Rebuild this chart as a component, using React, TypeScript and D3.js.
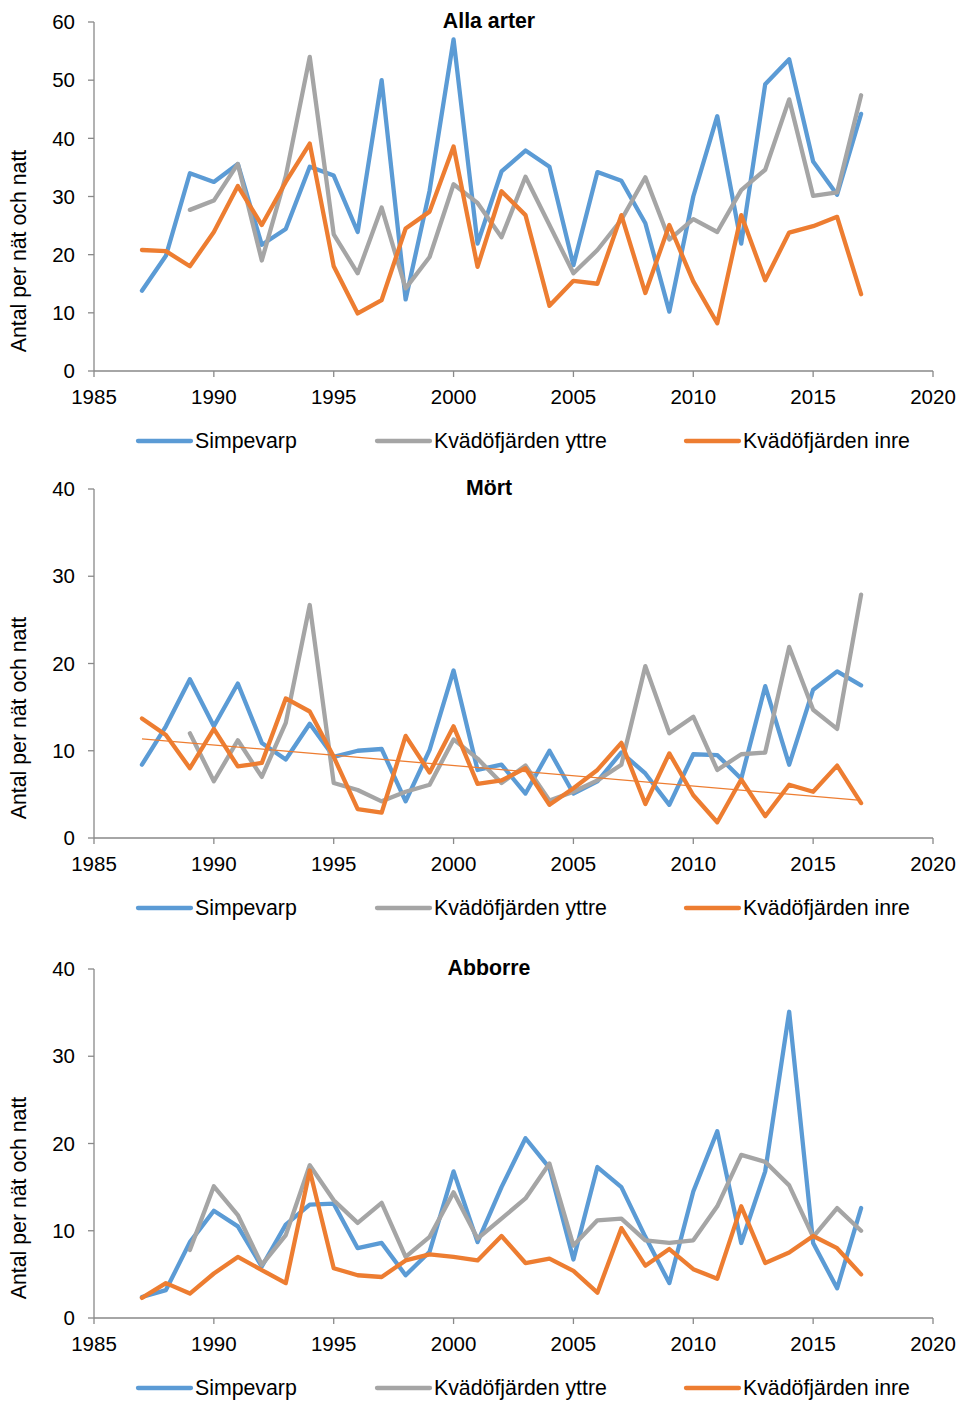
import React from "react";
import * as d3 from "d3";

const years = d3.range(1987, 2018);

const seriesNames = ["Simpevarp", "Kvädöfjärden yttre", "Kvädöfjärden inre"];
const seriesColors = ["#5B9BD5", "#A5A5A5", "#ED7D31"];

const panelTitles = ["Alla arter", "Mört", "Abborre"];
const panelYMax = [60, 40, 40];
const xTicks = [1985, 1990, 1995, 2000, 2005, 2010, 2015, 2020];

// Alla arter
const allaSimpevarp = [13.8, 19.8, 34.0, 32.5, 35.6, 21.7, 24.4, 35.1, 33.6, 23.9, 50.0, 12.3, 31.0, 57.0, 21.9, 34.3, 37.9, 35.1, 18.2, 34.2, 32.7, 25.4, 10.2, 30.0, 43.8, 21.9, 49.3, 53.6, 36.0, 30.3, 44.2];
const allaYttre = [null, null, 27.7, 29.3, 35.6, 19.0, 33.5, 54.0, 23.5, 16.8, 28.1, 14.2, 19.6, 32.1, 28.9, 23.0, 33.4, 25.1, 16.8, 20.8, 26.0, 33.3, 22.6, 26.1, 23.9, 31.1, 34.6, 46.7, 30.1, 30.7, 47.4];
const allaInre = [20.8, 20.6, 18.0, 23.9, 31.8, 25.1, 32.5, 39.1, 18.0, 9.9, 12.2, 24.5, 27.4, 38.6, 17.9, 30.9, 26.8, 11.2, 15.5, 15.0, 26.8, 13.4, 25.1, 15.4, 8.2, 26.8, 15.6, 23.8, 24.9, 26.5, 13.2];

// Mört
const mortSimpevarp = [8.4, 12.8, 18.2, 12.8, 17.7, 10.9, 9.0, 13.1, 9.3, 10.0, 10.2, 4.2, 10.1, 19.2, 7.8, 8.4, 5.1, 10.0, 5.1, 6.5, 9.8, 7.4, 3.8, 9.6, 9.5, 6.8, 17.4, 8.4, 17.0, 19.1, 17.5];
const mortYttre = [null, null, 12.0, 6.5, 11.2, 7.0, 13.2, 26.7, 6.3, 5.5, 4.2, 5.3, 6.1, 11.3, 9.1, 6.3, 8.3, 4.3, 5.3, 6.6, 8.4, 19.7, 12.0, 13.9, 7.8, 9.6, 9.8, 21.9, 14.7, 12.5, 27.9];
const mortInre = [13.7, 11.8, 8.0, 12.5, 8.2, 8.6, 16.0, 14.5, 9.3, 3.3, 2.9, 11.7, 7.5, 12.8, 6.2, 6.6, 8.0, 3.8, 5.7, 7.8, 10.9, 3.9, 9.7, 4.9, 1.8, 6.7, 2.5, 6.1, 5.3, 8.3, 4.0];

// Abborre
const abborreSimpevarp = [2.4, 3.2, 8.7, 12.3, 10.5, 5.9, 10.7, 13.0, 13.1, 8.0, 8.6, 4.9, 7.6, 16.8, 8.7, 15.0, 20.6, 17.2, 6.7, 17.3, 15.0, 9.3, 4.0, 14.5, 21.4, 8.6, 16.8, 35.1, 8.6, 3.4, 12.6];
const abborreYttre = [null, null, 7.8, 15.1, 11.8, 6.1, 9.5, 17.5, 13.5, 10.9, 13.2, 7.0, 9.3, 14.4, 9.1, 11.4, 13.7, 17.7, 8.3, 11.2, 11.4, 8.9, 8.6, 8.9, 12.8, 18.7, 17.9, 15.2, 9.3, 12.6, 10.0];
const abborreInre = [2.3, 4.0, 2.8, 5.1, 7.0, 5.5, 4.0, 16.9, 5.7, 4.9, 4.7, 6.6, 7.3, 7.0, 6.6, 9.4, 6.3, 6.8, 5.4, 2.9, 10.3, 6.0, 7.9, 5.6, 4.5, 12.8, 6.3, 7.5, 9.4, 8.0, 5.0];

const panelData = [
  [allaSimpevarp, allaYttre, allaInre],
  [mortSimpevarp, mortYttre, mortInre],
  [abborreSimpevarp, abborreYttre, abborreInre],
];
const panelTrend = [false, true, false];

const W = 962;
const H = 1403;
const plotLeft = 94;
const plotRight = 933;
const panelTops = [22, 489, 969];
const plotH = 349;
const axisColor = "#898989";
const fontFamily = "'Liberation Sans', Arial, sans-serif";
const tickFont = 20.5;
const textFont = 21.3;

const legendItems = [
  { x1: 138, x2: 191 },
  { x1: 377, x2: 430 },
  { x1: 686, x2: 739 },
];

function linreg(xs: number[], ys: number[]) {
  const mx = d3.mean(xs) as number;
  const my = d3.mean(ys) as number;
  let num = 0;
  let den = 0;
  xs.forEach((x, i) => {
    num += (x - mx) * (ys[i] - my);
    den += (x - mx) * (x - mx);
  });
  const b = num / den;
  return { a: my - b * mx, b };
}

function Panel({ idx }: { idx: number }) {
  const top = panelTops[idx];
  const bottom = top + plotH;
  const x = d3.scaleLinear().domain([1985, 2020]).range([plotLeft, plotRight]);
  const y = d3.scaleLinear().domain([0, panelYMax[idx]]).range([bottom, top]);
  const yTicks = d3.range(0, panelYMax[idx] + 1, 10);
  const line = d3
    .line<number | null>()
    .defined((d) => d != null)
    .x((_, i) => x(years[i]))
    .y((d) => y(d as number));
  const data = panelData[idx];
  let trend: React.ReactNode = null;
  if (panelTrend[idx]) {
    const ys = data[2] as number[];
    const { a, b } = linreg(years, ys);
    const x0 = years[0];
    const x1 = years[years.length - 1];
    trend = (
      <line
        x1={x(x0)}
        y1={y(a + b * x0)}
        x2={x(x1)}
        y2={y(a + b * x1)}
        stroke={seriesColors[2]}
        strokeWidth={1.3}
      />
    );
  }
  const legendY = bottom + 70;
  return (
    <g>
      <line x1={plotLeft} x2={plotLeft} y1={top} y2={bottom} stroke={axisColor} strokeWidth={1.3} />
      {yTicks.map((t) => (
        <g key={"y" + t}>
          <line x1={plotLeft - 6} x2={plotLeft} y1={y(t)} y2={y(t)} stroke={axisColor} strokeWidth={1.3} />
          <text
            x={plotLeft - 19}
            y={y(t)}
            dy="0.35em"
            textAnchor="end"
            fontSize={tickFont}
            fontFamily={fontFamily}
            fill="#000"
          >
            {t}
          </text>
        </g>
      ))}
      <line x1={plotLeft} x2={plotRight} y1={bottom} y2={bottom} stroke={axisColor} strokeWidth={1.3} />
      {xTicks.map((t) => (
        <g key={"x" + t}>
          <line x1={x(t)} x2={x(t)} y1={bottom} y2={bottom + 6} stroke={axisColor} strokeWidth={1.3} />
          <text
            x={x(t)}
            y={bottom + 33}
            textAnchor="middle"
            fontSize={tickFont}
            fontFamily={fontFamily}
            fill="#000"
          >
            {t}
          </text>
        </g>
      ))}
      <text
        transform={`translate(${26},${bottom - 120}) rotate(-90)`}
        textAnchor="middle"
        fontSize={textFont}
        fontFamily={fontFamily}
        fill="#000"
      >
        Antal per nät och natt
      </text>
      <text
        x={489}
        y={top + 6}
        textAnchor="middle"
        fontSize={textFont}
        fontWeight="bold"
        fontFamily={fontFamily}
        fill="#000"
      >
        {panelTitles[idx]}
      </text>
      {data.map((s, i) => (
        <path
          key={"s" + i}
          d={line(s as (number | null)[]) || ""}
          fill="none"
          stroke={seriesColors[i]}
          strokeWidth={4.3}
          strokeLinejoin="round"
          strokeLinecap="round"
        />
      ))}
      {trend}
      {seriesNames.map((name, i) => (
        <g key={"l" + i}>
          <line
            x1={legendItems[i].x1}
            x2={legendItems[i].x2}
            y1={legendY}
            y2={legendY}
            stroke={seriesColors[i]}
            strokeWidth={4.3}
            strokeLinecap="round"
          />
          <text
            x={legendItems[i].x2 + 4}
            y={legendY}
            dy="0.35em"
            fontSize={textFont}
            fontFamily={fontFamily}
            fill="#000"
          >
            {name}
          </text>
        </g>
      ))}
    </g>
  );
}

export default function App() {
  return (
    <svg
      width={W}
      height={H}
      viewBox={`0 0 ${W} ${H}`}
      style={{ position: "absolute", left: 0, top: 0, background: "#fff" }}
    >
      <rect x={0} y={0} width={W} height={H} fill="#fff" />
      {[0, 1, 2].map((i) => (
        <Panel key={i} idx={i} />
      ))}
    </svg>
  );
}
